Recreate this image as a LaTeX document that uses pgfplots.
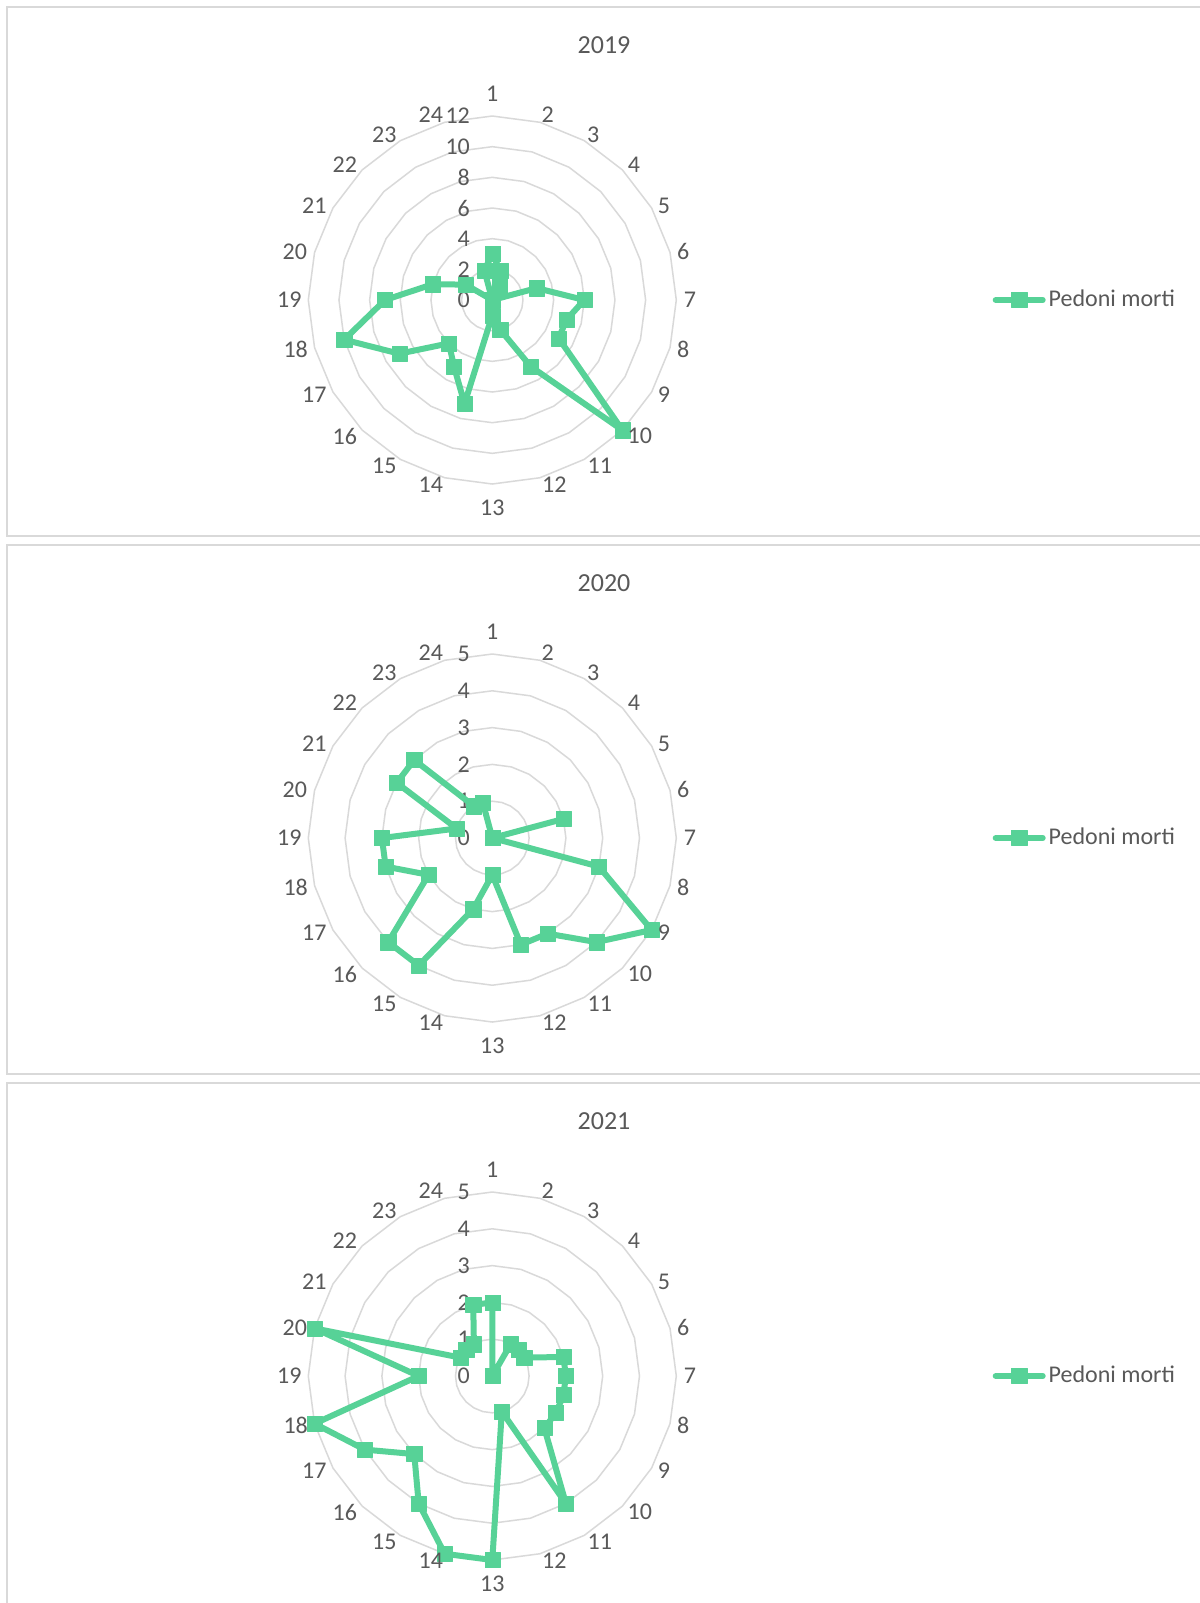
\documentclass[border=0pt]{standalone}
\usepackage{fontspec}
\setmainfont{Carlito}
\usepackage{pgfplots}
\pgfplotsset{compat=1.18}
\usepackage{pgfplotstable}
\usepgfplotslibrary{polar}
\definecolor{serie}{RGB}{87,210,151}
\definecolor{gridc}{RGB}{217,217,217}
\definecolor{txt}{RGB}{89,89,89}
\definecolor{framec}{RGB}{217,217,217}

\pgfplotstableread{
angle y2019 y2020 y2021
90 3 0 2
75 2 0 0
60 1 0 1
45 0 0 1
30 0 0 1
15 3 2 2
0 6 0 2
-15 5 3 2
-30 5 5 2
-45 12 4 2
-60 5 3 4
-75 2 3 1
-90 1 1 5
-105 7 2 5
-120 5 4 4
-135 4 4 3
-150 7 2 4
-165 10 3 5
-180 7 3 2
-195 4 1 5
-210 2 3 1
-225 0 3 1
-240 0 1 1
-255 2 1 2
-270 3 0 2
}\data

\newcommand{\lblfont}{\fontsize{12}{14.4}\selectfont}

\tikzset{ticklbl/.style={anchor=east, xshift=-11pt, inner sep=0pt, text=txt, font=\lblfont}}

\pgfplotsset{
  radar/.style={hide axis, scale only axis, width=184pt, height=184pt,
    ymin=0, xmin=0, xmax=360, enlargelimits=false, clip=false, anchor=center,
    legend style={at={(1.8587,0.5)}, anchor=west, draw=none, fill=none,
      inner sep=0pt, font=\lblfont, text=txt, column sep=1.5pt,
      nodes={inner sep=0pt}},
    legend image code/.code={\draw[mark repeat=2,mark phase=2,##1]
      plot coordinates {(0pt,0pt) (11.75pt,0pt) (23.5pt,0pt)};},
  },
  serie/.style={color=serie, line width=3pt, line join=round, line cap=round,
    mark=square*, mark size=3.8pt, mark options={solid, line width=0.2pt}},
  ringst/.style={color=gridc, line width=0.75pt, no markers, forget plot},
}

% category labels at measured offsets (pt) from the centre
\newcommand{\catlabels}[2]{%
  \foreach \k/\dx/\dy in {1/0/103.3, 2/27.7/92.5, 3/50.5/82.5, 4/70.8/67.5, 5/85.8/47, 6/95.5/24.2,
     7/98.8/0, 8/95.5/-24.7, 9/85.8/-47.5, 10/73.8/-68, 11/53.8/-83, 12/31/-92.5,
     13/0/-103.7, 14/-30.7/-92.5, 15/-54/-83, 16/-73.7/-68, 17/-89/-47.5, 18/-98.3/-24.7,
     19/-101.5/0, 20/-98.7/24.2, 21/-89/47, 22/-73.7/67.5, 23/-54/82.5, 24/-30.7/92.5}{%
    \node[inner sep=0pt, text=txt, font=\lblfont] at ([shift={(\dx pt,\dy pt)}]#1pt,#2pt) {\k};
  }%
}

\begin{document}
\begin{tikzpicture}
\useasboundingbox (0pt,0pt) rectangle (600pt,-801.5pt);
\fill[white] (0pt,0pt) rectangle (600pt,-801.5pt);
% panels
\draw[framec, line width=1pt] (600pt,-3.5pt) -- (3.35pt,-3.5pt) -- (3.35pt,-268pt) -- (600pt,-268pt);
\draw[framec, line width=1pt] (600pt,-272.5pt) -- (3.35pt,-272.5pt) -- (3.35pt,-537pt) -- (600pt,-537pt);
\draw[framec, line width=1pt] (600pt,-541.5pt) -- (3.35pt,-541.5pt) -- (3.35pt,-801.5pt);
% titles
\node[text=txt, font=\fontsize{13}{16}\selectfont] at (302pt,-22.5pt) {2019};
\node[text=txt, font=\fontsize{13}{16}\selectfont] at (302pt,-291.5pt) {2020};
\node[text=txt, font=\fontsize{13}{16}\selectfont] at (302pt,-560.5pt) {2021};

% 2019
\begin{polaraxis}[radar, at={(246.15pt,-150pt)}, ymax=12]
\pgfplotsinvokeforeach{2,4,...,12}{\addplot[ringst] table[x=angle, y expr=#1] {\data};}
\pgfplotsinvokeforeach{0,2,...,12}{\node[ticklbl] at (axis cs:90,#1) {#1};}
\addplot[serie] table[x=angle, y=y2019] {\data};
\addlegendentry{Pedoni morti}
\end{polaraxis}
\catlabels{246.15}{-150}

% 2020
\begin{polaraxis}[radar, at={(246.15pt,-419pt)}, ymax=5]
\pgfplotsinvokeforeach{1,...,5}{\addplot[ringst] table[x=angle, y expr=#1] {\data};}
\pgfplotsinvokeforeach{0,...,5}{\node[ticklbl] at (axis cs:90,#1) {#1};}
\addplot[serie] table[x=angle, y=y2020] {\data};
\addlegendentry{Pedoni morti}
\end{polaraxis}
\catlabels{246.15}{-419}

% 2021
\begin{polaraxis}[radar, at={(246.15pt,-688pt)}, ymax=5]
\pgfplotsinvokeforeach{1,...,5}{\addplot[ringst] table[x=angle, y expr=#1] {\data};}
\pgfplotsinvokeforeach{0,...,5}{\node[ticklbl] at (axis cs:90,#1) {#1};}
\addplot[serie] table[x=angle, y=y2021] {\data};
\addlegendentry{Pedoni morti}
\end{polaraxis}
\catlabels{246.15}{-688}
\end{tikzpicture}
\end{document}
